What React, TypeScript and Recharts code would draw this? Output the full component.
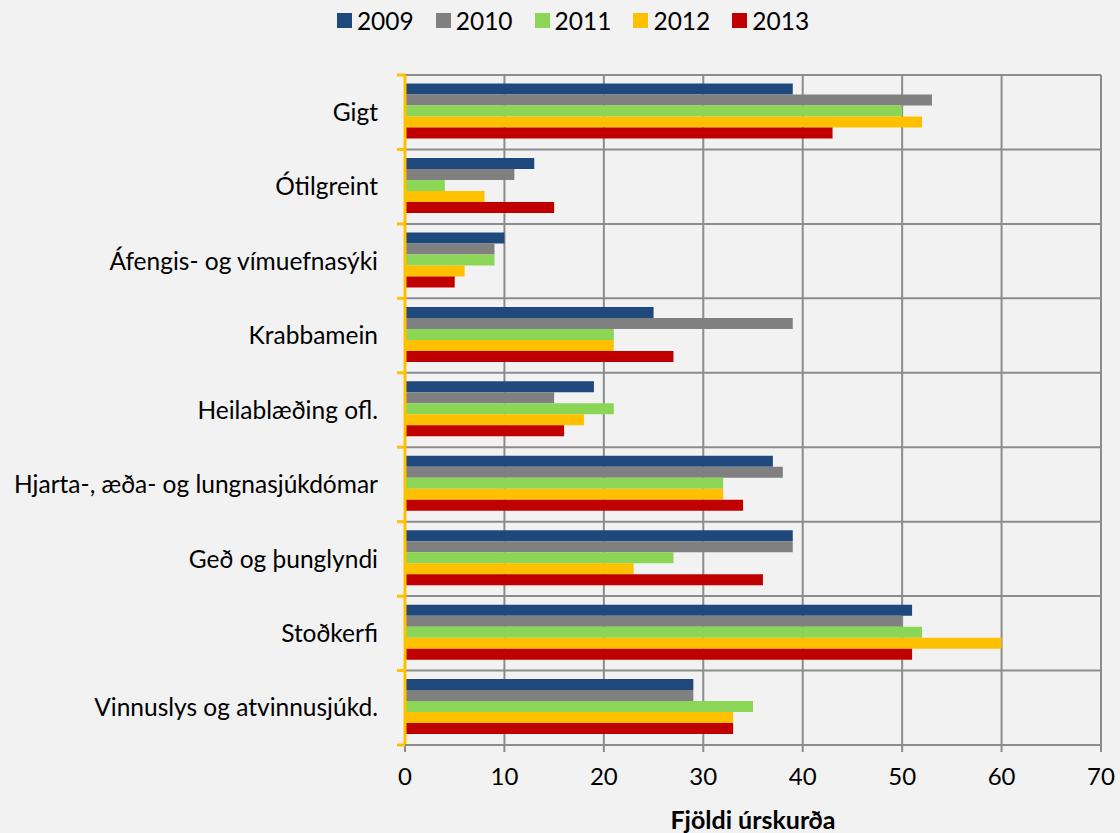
import {
  BarChart,
  Bar,
  XAxis,
  YAxis,
  CartesianGrid,
  Legend,
} from 'recharts';

const CATEGORIES = [
  'Gigt',
  'Ótilgreint',
  'Áfengis- og vímuefnasýki',
  'Krabbamein',
  'Heilablæðing ofl.',
  'Hjarta-, æða- og lungnasjúkdómar',
  'Geð og þunglyndi',
  'Stoðkerfi',
  'Vinnuslys og atvinnusjúkd.',
];

const YEARS = ['2009', '2010', '2011', '2012', '2013'];

const V2009 = [39, 13, 10, 25, 19, 37, 39, 51, 29];
const V2010 = [53, 11, 9, 39, 15, 38, 39, 50, 29];
const V2011 = [50, 4, 9, 21, 21, 32, 27, 52, 35];
const V2012 = [52, 8, 6, 21, 18, 32, 23, 60, 33];
const V2013 = [43, 15, 5, 27, 16, 34, 36, 51, 33];

const X_TICKS = [0, 10, 20, 30, 40, 50, 60, 70];

const COLORS = ['#1F497D', '#808080', '#8BD656', '#FFC000', '#C00000'];

const SERIES = [V2009, V2010, V2011, V2012, V2013];

const data = CATEGORIES.map((name, i) => {
  const row: Record<string, string | number> = { name };
  YEARS.forEach((y, k) => {
    row[y] = SERIES[k][i];
  });
  return row;
});

const FONT = 'Lato, "Open Sans", sans-serif';
const GRID = '#8C8C8C';
const AXIS_YELLOW = '#FFC000';

const LegendContent = () => (
  <div
    style={{
      height: 0,
      overflow: 'visible',
      display: 'flex',
      justifyContent: 'center',
      gap: 22,
      fontFamily: FONT,
      fontSize: 24.5,
      lineHeight: '29px',
      color: '#000',
      paddingLeft: 26,
    }}
  >
    {YEARS.map((y, k) => (
      <div key={y} style={{ display: 'flex', alignItems: 'center', gap: 5, height: 29 }}>
        <span style={{ width: 15, height: 15, background: COLORS[k], display: 'inline-block' }} />
        <span>{y}</span>
      </div>
    ))}
  </div>
);

// category label plus the yellow boundary ticks on the left axis
const CategoryTick = (props: any) => {
  const { x, y, payload, index, height } = props;
  const half = height / CATEGORIES.length / 2;
  const axisX = x + 27;
  return (
    <g>
      <text
        x={x}
        y={y}
        dy="0.355em"
        textAnchor="end"
        fill="#000"
        fontSize={24.5}
        fontFamily={FONT}
      >
        {payload.value}
      </text>
      <line x1={axisX - 8} x2={axisX} y1={y - half} y2={y - half} stroke={AXIS_YELLOW} strokeWidth={3} />
      {index === CATEGORIES.length - 1 && (
        <line x1={axisX - 8} x2={axisX} y1={y + half} y2={y + half} stroke={AXIS_YELLOW} strokeWidth={3} />
      )}
    </g>
  );
};

export default function App() {
  return (
    <div
      style={{
        position: 'fixed',
        left: 0,
        top: 0,
        width: 1120,
        height: 833,
        background: '#F2F2F2',
      }}
    >
      <BarChart
        width={1120}
        height={833}
        data={data}
        layout="vertical"
        margin={{ top: 75, right: 19, left: 0, bottom: 0 }}
        barGap={0}
        barCategoryGap="11.5%"
      >
        <CartesianGrid
          stroke={GRID}
          strokeWidth={2}
          strokeDasharray="0"
          horizontalCoordinatesGenerator={({ offset }: any) =>
            CATEGORIES.map((_, i) => offset.top + (i * offset.height) / CATEGORIES.length)
          }
        />
        <YAxis
          type="category"
          dataKey="name"
          width={405}
          axisLine={{ stroke: AXIS_YELLOW, strokeWidth: 3 }}
          tickLine={false}
          tickSize={6}
          tickMargin={21}
          tick={<CategoryTick />}
        />
        <XAxis
          type="number"
          domain={[0, 70]}
          ticks={X_TICKS}
          height={88}
          axisLine={{ stroke: GRID, strokeWidth: 2 }}
          tickLine={{ stroke: GRID, strokeWidth: 2 }}
          tickSize={7}
          tickMargin={16}
          tick={{ fill: '#000', fontSize: 24, fontFamily: FONT }}
          label={{
            value: 'Fjöldi úrskurða',
            position: 'insideBottom',
            offset: 4,
            style: { fill: '#000', fontSize: 25, fontWeight: 'bold', fontFamily: FONT },
          }}
        />
        <Legend
          verticalAlign="top"
          content={<LegendContent />}
          wrapperStyle={{ top: 6, left: 0, width: 1120 }}
        />
        {YEARS.map((y, k) => (
          <Bar
            key={y}
            dataKey={y}
            fill={COLORS[k]}
            isAnimationActive={false}
          />
        ))}
      </BarChart>
    </div>
  );
}
